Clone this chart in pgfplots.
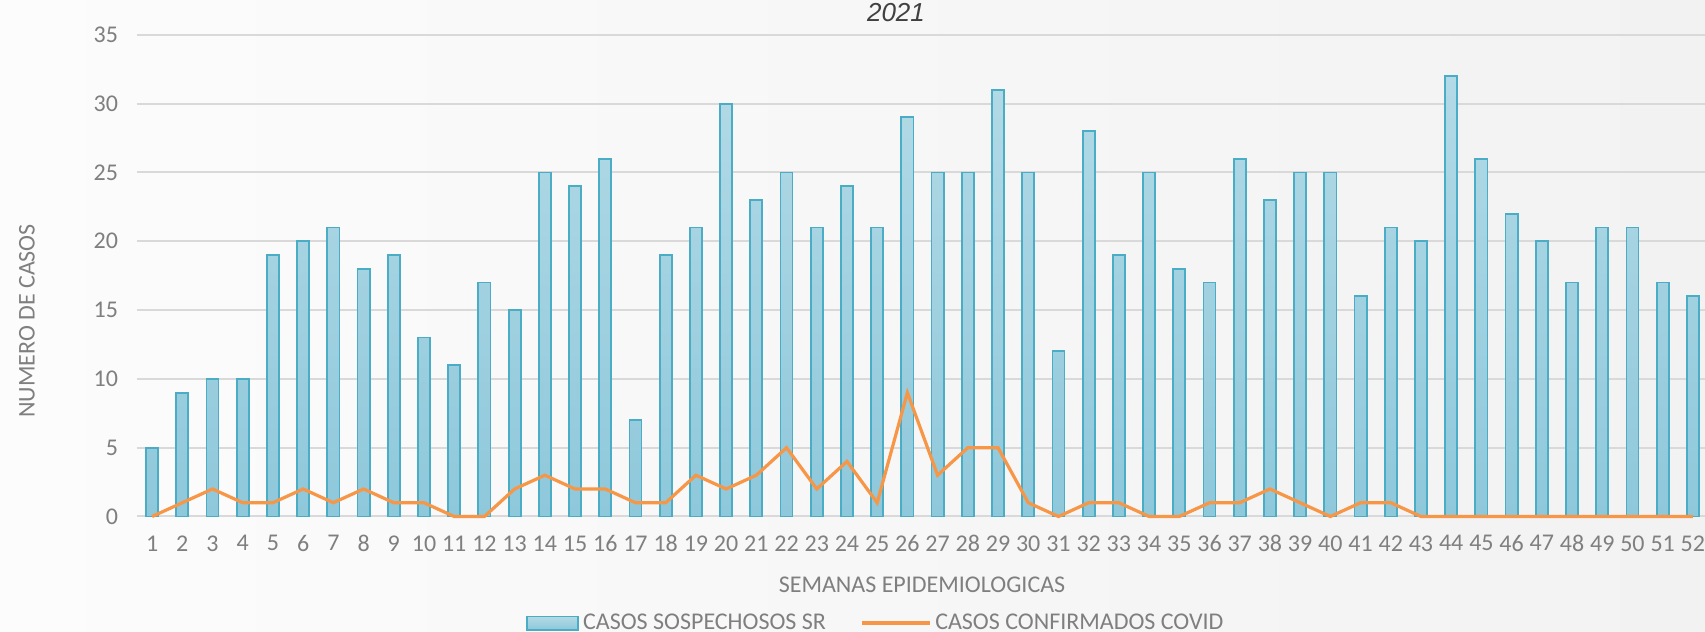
\documentclass[border=0pt]{standalone}
\usepackage{pgfplots}
\pgfplotsset{compat=1.18}
\usepackage{fontspec}
\setmainfont{Carlito}
\newfontfamily\titlefont{Liberation Sans}
\definecolor{bgL}{HTML}{FCFCFC}
\definecolor{bgR}{HTML}{F2F2F2}
\definecolor{gridc}{HTML}{D9D9D9}
\definecolor{barborder}{HTML}{4BACC6}
\definecolor{bartop}{HTML}{B3DAE6}
\definecolor{barbot}{HTML}{8EC8DB}
\definecolor{lineor}{HTML}{F79646}
\definecolor{tickc}{HTML}{7F7F7F}
\definecolor{labc}{HTML}{7F7F7F}
\definecolor{titc}{HTML}{404040}
\pgfplotsset{
  barleg/.style={legend image code/.code={\draw[##1] (0pt,-3.3pt) rectangle (25.5pt,3.3pt);}},
  lineleg/.style={legend image code/.code={\draw[##1] (0pt,0pt) -- (34pt,0pt);}},
}
\pgfplotstableread{
x sr covid
1 5 0
2 9 1
3 10 2
4 10 1
5 19 1
6 20 2
7 21 1
8 18 2
9 19 1
10 13 1
11 11 0
12 17 0
13 15 2
14 25 3
15 24 2
16 26 2
17 7 1
18 19 1
19 21 3
20 30 2
21 23 3
22 25 5
23 21 2
24 24 4
25 21 1
26 29 9
27 25 3
28 25 5
29 31 5
30 25 1
31 12 0
32 28 1
33 19 1
34 25 0
35 18 0
36 17 1
37 26 1
38 23 2
39 25 1
40 25 0
41 16 1
42 21 1
43 20 0
44 32 0
45 26 0
46 22 0
47 20 0
48 17 0
49 21 0
50 21 0
51 17 0
52 16 0
}\datatab
\begin{document}
\begin{tikzpicture}[x=1pt,y=1pt]
\useasboundingbox (0,0) rectangle (852.5,316);
\clip (0,0) rectangle (852.5,316);
\shade[left color=bgL, right color=bgR] (0,0) rectangle (852.5,316);
\begin{axis}[
  scale only axis,
  width=785.5pt, height=240.85pt,
  at={(68.5pt,57.75pt)}, anchor=south west,
  xmin=0.5, xmax=52.5, ymin=0, ymax=35,
  xtick={1,...,52}, ytick={0,5,...,35},
  major tick length=0pt,
  axis line style={draw=none},
  ymajorgrids, grid style={color=gridc, line width=1pt},
  clip=false,
  /pgf/number format/assume math mode=true,
  ticklabel style={font=\fontsize{12}{14}\selectfont, color=tickc},
  xticklabel style={yshift=-6pt},
  yticklabel style={xshift=-6pt},
  legend columns=2,
  legend style={at={(0.471,-0.2211)}, anchor=center, draw=none, fill=none,
    font=\fontsize{12}{14}\selectfont, text=labc,
    /tikz/every even column/.append style={column sep=15pt}},
]
\addplot[ybar, bar width=0.4, draw=barborder, line width=0.9pt,
  top color=bartop, bottom color=barbot, barleg]
  table[x=x, y=sr] {\datatab};
\addlegendentry{CASOS SOSPECHOSOS SR}
\addplot[color=lineor, line width=1.6pt, mark=none, lineleg]
  table[x=x, y=covid] {\datatab};
\addlegendentry{CASOS CONFIRMADOS COVID}
\end{axis}
\node[font=\titlefont\itshape\fontsize{13}{15}\selectfont, text=titc] at (448,309.8) {2021};
\node[font=\fontsize{12}{14}\selectfont, text=labc] at (461,23.5) {SEMANAS EPIDEMIOLOGICAS};
\node[font=\fontsize{12}{14}\selectfont, text=labc, rotate=90] at (13.5,155.5) {NUMERO DE CASOS};
\end{tikzpicture}
\end{document}
